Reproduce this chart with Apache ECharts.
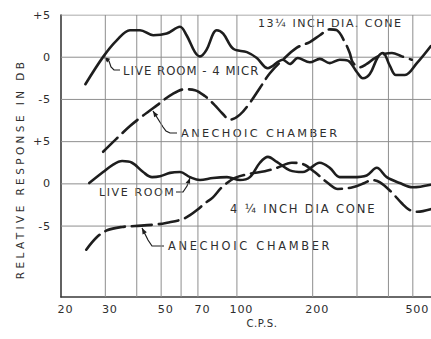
<!DOCTYPE html>
<html><head><meta charset="utf-8">
<script src="https://cdn.jsdelivr.net/npm/echarts@6/dist/echarts.min.js"></script>
<style>
html,body{margin:0;padding:0;background:#ffffff;}
#c{width:431px;height:339px;}
#c text[style*="11.2px"]{letter-spacing:0.8px}
#c text[style*="10.5px"]{letter-spacing:3.4px}
#c text[style*="11.1px"]{letter-spacing:1.5px}
#c text[style*="11.3px"]{letter-spacing:2.4px}
#c text[style*="11.4px"]{letter-spacing:2.7px}
#c text[style*="11.05px"]{letter-spacing:1.6px}
#c text[style*="11.6px"]{letter-spacing:1.8px}
#c text[style*="11.7px"]{letter-spacing:1px}
#c text[style*="10.1px"]{letter-spacing:0.6px}
</style></head><body><div id="c"></div><script>
// ---- data (frequency in c.p.s., response in dB relative to each panel's 0) ----
const xTickValues = [20, 30, 40, 50, 60, 70, 100, 200, 300, 400, 500];
const xLabelValues = [20, 30, 50, 70, 100, 200, 500];
const yTickPositions = [20, 15, 10, 5, 0, -5];
const yTickLabels = ['+5', '0', '-5', '+5', '0', '-5'];

// 13 1/4 inch dia cone (upper panel)
const bigLiveFreq = [25, 29.5, 33.3, 37.6, 41.2, 46.5, 52.6, 59.4, 63.1, 68.1, 71.3, 75.8, 80.5, 83.1, 88.2, 96.7, 109.6, 120, 132.7, 152.3, 162.3, 174.5, 194.9, 213.5, 233.9, 256.3, 275.9, 299.5, 316.5, 337.3, 362.8, 380.4, 405, 428.5, 465.3, 518.8, 588.8];
const bigLiveDb = [-3.2, 0.1, 2.0, 3.2, 3.2, 2.6, 2.8, 3.6, 2.6, 0.6, 0.1, 0.9, 2.8, 3.2, 2.8, 1.0, 0.6, -0.1, -1.3, -0.3, -0.8, -0.1, -0.6, -0.2, -0.7, -0.3, -0.4, -1.75, -2.5, -2.0, 0.0, 0.5, -1.0, -2.1, -2.1, -0.7, 1.3];
const bigAnechFreq = [29.4, 33.1, 37.6, 42.0, 48.1, 55.2, 62.2, 68.1, 74.6, 81.8, 87.2, 93.8, 102.8, 112.6, 123.4, 135.2, 152.3, 172.5, 194.8, 213.5, 233.9, 249.2, 268.3, 280.8, 288.5, 307.6, 328, 353, 388, 413, 452, 495];
const bigAnechDb = [-11.2, -9.7, -8.15, -7.0, -5.7, -4.4, -3.8, -3.9, -4.6, -5.7, -6.6, -7.4, -6.8, -5.4, -3.65, -1.9, -0.3, 1.1, 1.8, 2.6, 3.3, 3.2, 1.8, 0.5, -0.6, -1.2, -0.8, -0.1, 0.4, 0.5, 0.1, -0.3];

// 4 1/4 inch dia cone (lower panel)
const smallLiveFreq = [25.9, 29.4, 31.9, 35.0, 38.3, 42.4, 46.0, 49.5, 54.2, 59.4, 65.1, 71.3, 80.3, 91.3, 102.8, 112.6, 123.4, 132.8, 144.1, 162.3, 182.8, 213.5, 233.9, 256.3, 288.5, 327.9, 359.4, 393.8, 443.3, 499.6, 588.8];
const smallLiveDb = [0.1, 1.4, 2.2, 2.7, 2.5, 1.4, 0.8, 0.9, 1.3, 1.4, 0.8, 0.45, 0.7, 0.8, 0.45, 0.8, 2.5, 3.2, 2.6, 1.6, 1.4, 2.5, 1.9, 0.8, 0.8, 1.0, 1.9, 0.8, 0.1, -0.4, -0.1];
const smallAnechFreq = [25.2, 27.8, 30.5, 35.0, 39.4, 48.1, 52.8, 60.5, 65.1, 69.4, 74.6, 80.3, 87.2, 98.2, 112.6, 129.1, 144.1, 165.3, 184.5, 203.7, 229.8, 251.7, 288.5, 321.5, 343, 369, 412, 452, 486, 521, 588.8];
const smallAnechDb = [-7.8, -6.3, -5.5, -5.1, -5.0, -4.8, -4.6, -4.2, -3.7, -3.1, -2.3, -1.6, -0.4, 0.7, 1.2, 1.5, 1.9, 2.5, 2.3, 1.4, 0.1, -0.6, -0.4, 0.1, 0.45, 0.2, -1.0, -2.3, -3.1, -3.3, -3.0];

const UPPER_PANEL_OFFSET = 15; // upper panel's 0 dB sits 15 dB above the lower panel's 0 dB
const X_MIN = 20, X_MAX = 590, Y_MIN = -13.4, Y_MAX = 20;

// ---- chart ----
const FONT = 'DejaVu Sans';
const INK = '#1e1e1e';
const TXT = '#2e2e2e';
const GRID = '#8e8e8e';
const lg = Math.log10;
const toPts = (fr, db, off) => fr.map((f, i) => [lg(f), db[i] + off]);

const chart = echarts.init(document.getElementById('c'), null, {renderer: 'svg'});

function lineSeries(name, fr, db, off, dashed) {
  return {
    name, type: 'line', data: toPts(fr, db, off), smooth: 0.35, showSymbol: false,
    silent: true, clip: true, z: 5,
    lineStyle: {color: INK, width: 2.6, type: dashed ? [20, 7] : 'solid', cap: 'round'}
  };
}

function gridSeries(data) {
  return {
    type: 'line', data, showSymbol: false, silent: true, clip: true, z: 1,
    lineStyle: {color: GRID, width: 1}
  };
}

function leader(points) {
  const [t, p] = points;
  const dx = t[0] - p[0], dy = t[1] - p[1], L = Math.hypot(dx, dy);
  const ux = dx / L, uy = dy / L, nx = -uy, ny = ux;
  const h = 6, w = 2.4;
  return [
    {type: 'polyline', shape: {points}, style: {stroke: INK, lineWidth: 1.2, fill: null}, silent: true},
    {type: 'polygon', shape: {points: [t, [t[0] - ux * h + nx * w, t[1] - uy * h + ny * w], [t[0] - ux * h - nx * w, t[1] - uy * h - ny * w]]}, style: {fill: INK}, silent: true}
  ];
}

function label(text, x, y, size, centered, rot) {
  const a = centered ? 'center' : 'left';
  return {
    type: 'text', x, y, silent: true, rotation: rot || 0,
    style: {text, fill: TXT, fontSize: size, fontFamily: FONT, align: a, verticalAlign: 'middle', textAlign: a, textVerticalAlign: 'middle'}
  };
}

const yLabelMap = {};
yTickPositions.forEach((v, i) => { yLabelMap[v] = yTickLabels[i]; });

const gridLineSeries = [
  ...xTickValues.slice(1).map(v => gridSeries([[lg(v), Y_MIN], [lg(v), Y_MAX]])),
  ...yTickPositions.map(v => gridSeries([[lg(X_MIN), v], [lg(X_MAX), v]]))
];

chart.setOption({
  animation: false,
  backgroundColor: '#ffffff',
  grid: {left: 61, right: 0, top: 15, bottom: 42},
  xAxis: {
    type: 'value', min: lg(X_MIN), max: lg(X_MAX),
    axisLine: {show: true, onZero: false, lineStyle: {color: '#3a3a3a', width: 1.6}},
    axisTick: {show: false},
    splitLine: {show: false},
    axisLabel: {
      customValues: xLabelValues.map(v => lg(v)),
      formatter: v => String(Math.round(Math.pow(10, v))),
      color: TXT, fontSize: 11.2, fontFamily: FONT, margin: 7, padding: [0, 0, 0, 9]
    }
  },
  yAxis: {
    type: 'value', min: Y_MIN, max: Y_MAX,
    axisLine: {show: true, onZero: false, lineStyle: {color: '#3a3a3a', width: 1.6}},
    axisTick: {show: false},
    splitLine: {show: false},
    axisLabel: {
      customValues: yTickPositions,
      formatter: v => yLabelMap[Math.round(v)] || '',
      color: TXT, fontSize: 11.2, fontFamily: FONT, margin: 10
    }
  },
  series: [
    ...gridLineSeries,
    lineSeries('13 1/4 live room', bigLiveFreq, bigLiveDb, UPPER_PANEL_OFFSET, false),
    lineSeries('13 1/4 anechoic', bigAnechFreq, bigAnechDb, UPPER_PANEL_OFFSET, true),
    lineSeries('4 1/4 live room', smallLiveFreq, smallLiveDb, 0, false),
    lineSeries('4 1/4 anechoic', smallAnechFreq, smallAnechDb, 0, true)
  ],
  graphic: [
    label('13¼ INCH DIA. CONE', 258, 23, 11.1),
    label('LIVE ROOM - 4 MICR', 123, 71, 11.7),
    label('ANECHOIC CHAMBER', 181, 133, 11.3),
    label('LIVE ROOM', 99, 192, 11.05),
    label('4 ¼ INCH DIA CONE', 230, 209, 11.6),
    label('ANECHOIC CHAMBER', 168, 246, 11.4),
    label('RELATIVE RESPONSE IN DB', 20, 169, 10.5, true, Math.PI / 2),
    label('C.P.S.', 262, 323, 10.1, true),
    ...leader([[104, 57], [109, 61], [111, 67], [114, 70], [120, 70]]),
    ...leader([[153, 111], [163, 127], [166, 131], [170, 133], [177, 133]]),
    ...leader([[190, 178], [187, 186], [183, 192], [176, 192]]),
    ...leader([[142, 228], [148, 240], [152, 246], [164, 246]])
  ]
});
</script></body></html>
